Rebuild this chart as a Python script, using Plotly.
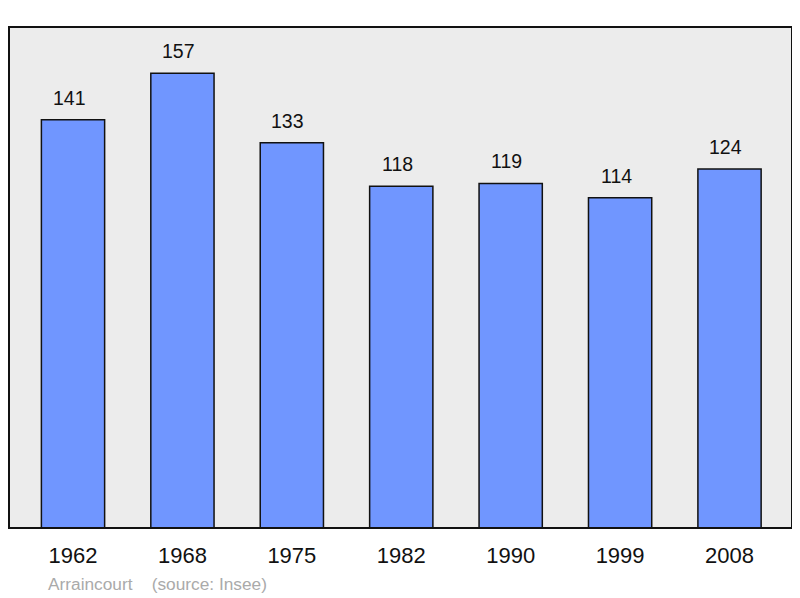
import plotly.graph_objects as go

years = ["1962", "1968", "1975", "1982", "1990", "1999", "2008"]
population = [141, 157, 133, 118, 119, 114, 124]
source_label = "Arraincourt    (source: Insee)"

xs = list(range(len(years)))

fig = go.Figure()
fig.add_trace(go.Bar(
    x=xs, y=population, width=0.578,
    marker=dict(color="#7096FF", line=dict(color="#111111", width=1.5)),
    hoverinfo="skip",
))
for x, v in zip(xs, population):
    fig.add_annotation(x=x, y=v, text=str(v), showarrow=False, yanchor="middle",
                       yshift=22, xshift=-4, font=dict(size=19.5, color="#111111"))

fig.add_annotation(xref="paper", yref="paper", x=0.051, y=-0.112, xanchor="left", yanchor="middle",
                   xshift=-3, text=source_label.replace(" ", "&nbsp;"), showarrow=False,
                   font=dict(size=17.3, color="#aaaaaa"))

fig.add_shape(type="rect", xref="paper", yref="paper", x0=0, x1=1, y0=0, y1=1,
              line=dict(color="#111111", width=2), layer="above")

fig.update_layout(
    width=800, height=598,
    margin=dict(l=1, r=16, t=19, b=78),
    paper_bgcolor="white", plot_bgcolor="#ECECEC",
    font=dict(family="Liberation Sans, Arial, sans-serif"),
    showlegend=False,
    xaxis=dict(range=[-0.585, 6.571], tickvals=xs, ticktext=years, showgrid=False,
               zeroline=False, ticks="", tickfont=dict(size=22, color="#111111"),
               ticklabelstandoff=12, fixedrange=True),
    yaxis=dict(range=[0, 173], showgrid=False, zeroline=False, showticklabels=False,
               ticks="", fixedrange=True),
)
fig.write_html("out.html")
